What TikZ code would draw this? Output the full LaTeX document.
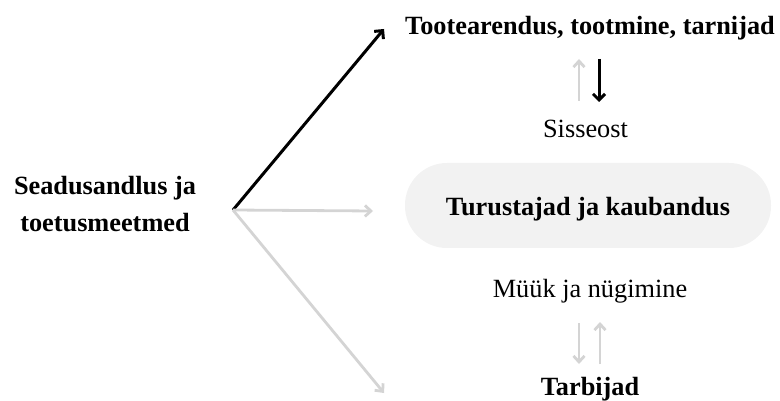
\documentclass[tikz,border=0pt]{standalone}
\usepackage{fontspec}
\setmainfont{Liberation Serif}
\usetikzlibrary{arrows.meta}
\definecolor{lightarrow}{HTML}{D4D4D4}
\definecolor{pillfill}{HTML}{F2F2F2}
\tikzset{
  lbl/.style={font=\fontsize{26.3}{37}\selectfont, inner sep=0pt, anchor=base},
  blbl/.style={lbl, font=\fontsize{26.3}{37}\selectfont\bfseries},
  darkarr/.style={line width=3pt, black, -{Straight Barb[length=6pt,width=12pt,line width=3pt]}},
  lightarr/.style={line width=2.8pt, lightarrow, -{Straight Barb[length=6pt,width=11pt,line width=2.8pt]}},
  pill/.style={fill=pillfill, rounded corners=42pt, minimum width=366pt, minimum height=85pt, inner sep=0pt}
}
\begin{document}
\begin{tikzpicture}[x=1pt,y=-1pt]
\useasboundingbox (0,0) rectangle (780,401);
\node[pill] (box) at (588,205.5) {};
\node[blbl, align=center] (law) at (105,232) {Seadusandlus ja\\toetusmeetmed};
\node[blbl] (top) at (590,35) {Tootearendus, tootmine, tarnijad};
\node[lbl] (buy) at (585.5,138) {Sisseost};
\node[blbl] (mid) at (588,215) {Turustajad ja kaubandus};
\node[lbl] (sell) at (590,297) {Müük ja nügimine};
\node[blbl] (cons) at (590,395) {Tarbijad};
\coordinate (o) at (233,210);
\coordinate (tA) at (384,29);
\coordinate (mA) at (373,211);
\coordinate (bA) at (384,393);
\draw[darkarr] (o) -- (tA);
\draw[lightarr] (o) -- (mA);
\draw[lightarr] (o) -- (bA);
\coordinate (u1s) at (579,101);
\coordinate (u1e) at (579,59);
\coordinate (d1s) at (599,59);
\coordinate (d1e) at (599,102);
\draw[lightarr] (u1s) -- (u1e);
\draw[darkarr] (d1s) -- (d1e);
\coordinate (d2s) at (579,323);
\coordinate (d2e) at (579,364);
\coordinate (u2s) at (600,364);
\coordinate (u2e) at (600,322);
\draw[lightarr] (d2s) -- (d2e);
\draw[lightarr] (u2s) -- (u2e);
\end{tikzpicture}
\end{document}
